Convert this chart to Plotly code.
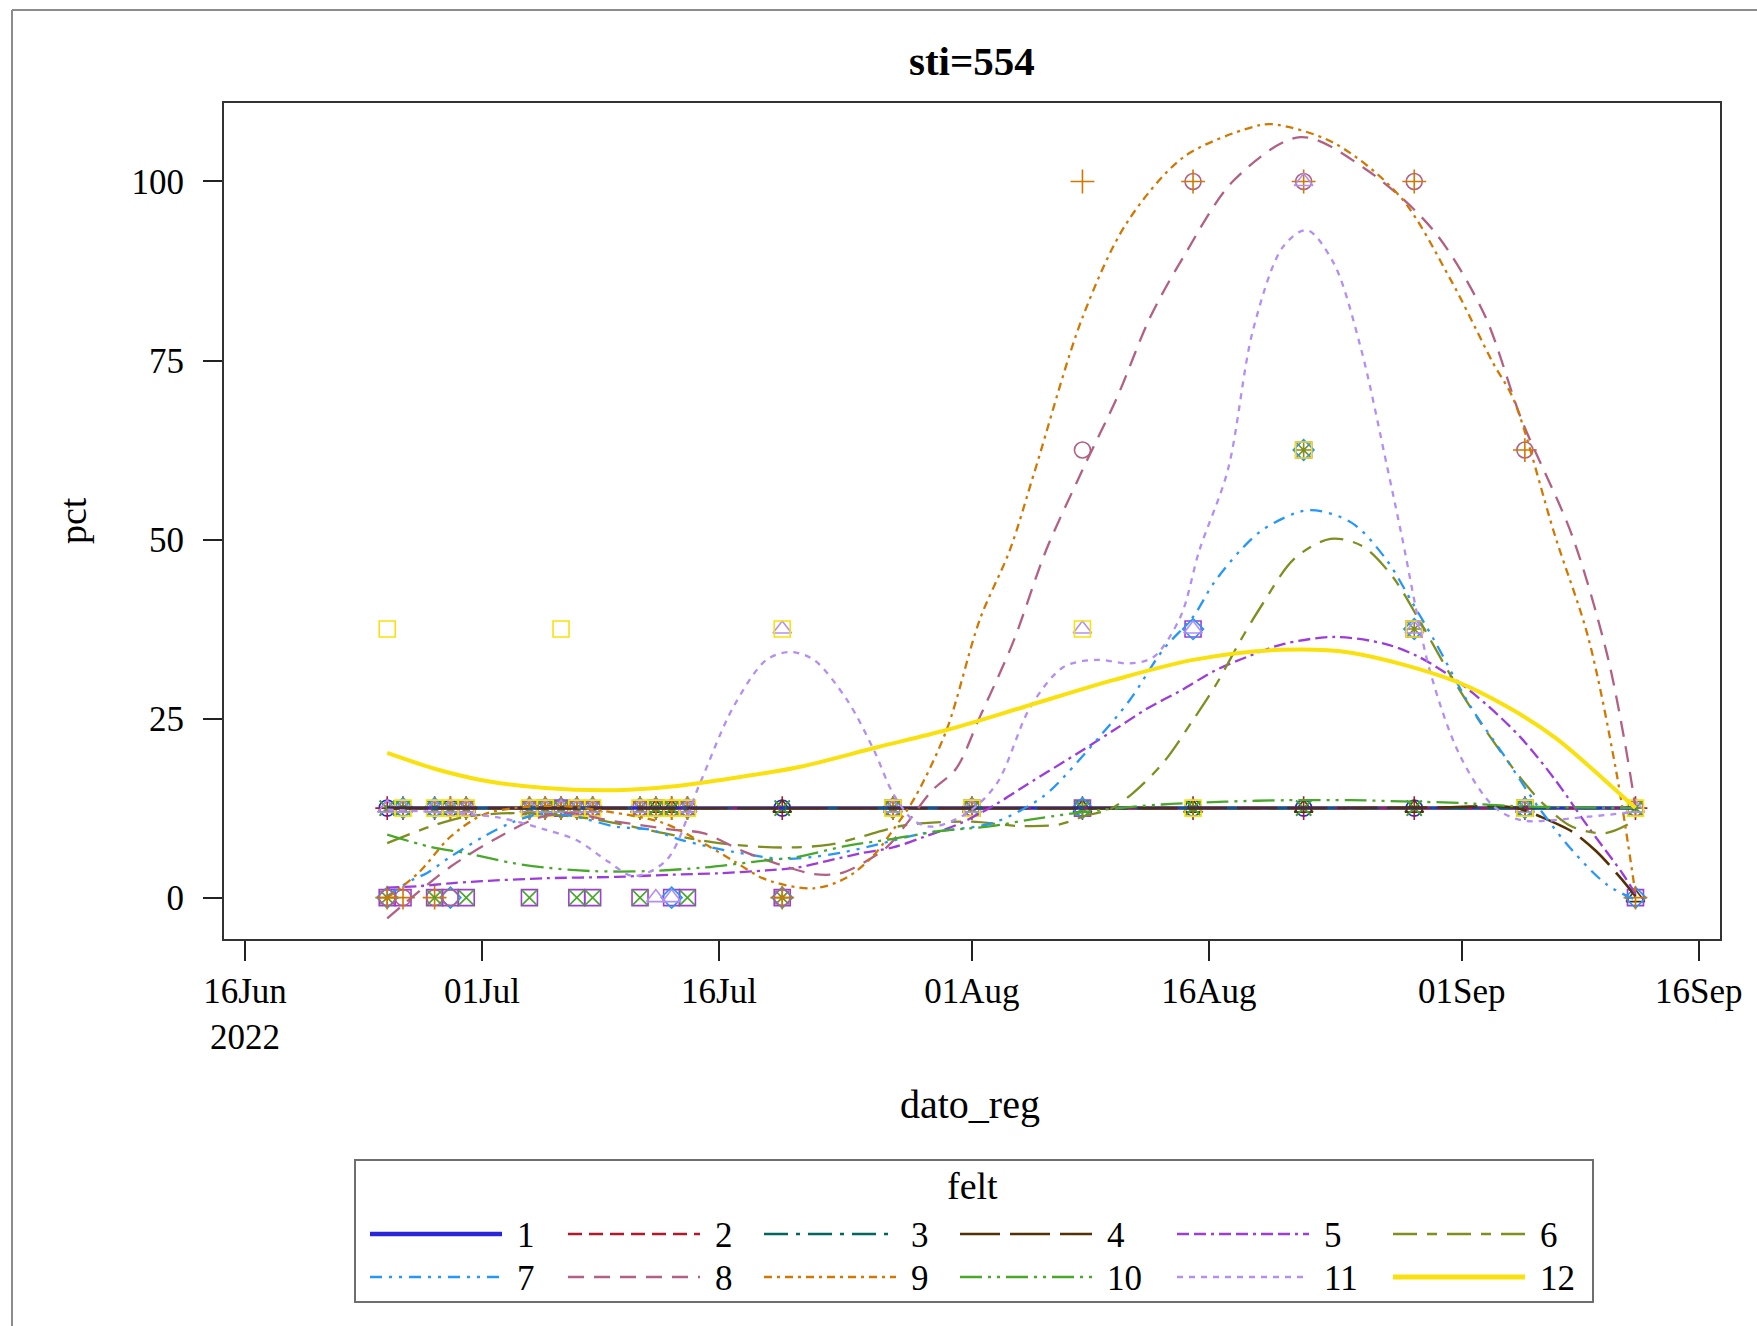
import pandas as pd
import plotly.graph_objects as go

# ---------------- data ----------------
dato_reg = ["2022-06-25", "2022-06-26", "2022-06-28", "2022-06-29", "2022-06-30",
            "2022-07-04", "2022-07-05", "2022-07-06", "2022-07-07", "2022-07-08",
            "2022-07-11", "2022-07-12", "2022-07-13", "2022-07-14", "2022-07-20",
            "2022-07-27", "2022-08-01", "2022-08-08", "2022-08-15", "2022-08-22",
            "2022-08-29", "2022-09-05", "2022-09-12"]
felt = ["1", "2", "3", "4", "5", "6", "7", "8", "9", "10", "11", "12"]

pct_1 = [12.5] * 23
pct_2 = [12.5] * 23
pct_3 = [12.5] * 23
pct_4 = [12.5] * 22 + [0]
pct_5 = [0, 0, 0, 0, 0, 0, 12.5, 12.5, 0, 0, 0, 12.5, 0, 0, 0, 12.5, 12.5, 12.5, 37.5, 62.5, 37.5, 12.5, 0]
pct_6 = [0, 12.5, 12.5, 12.5, 12.5, 12.5, 12.5, 12.5, 12.5, 12.5, 12.5, 12.5, 12.5, 12.5, 0, 12.5, 12.5, 12.5, 12.5, 62.5, 37.5, 12.5, 12.5]
pct_7 = [0, 12.5, 12.5, 0, 12.5, 12.5, 12.5, 12.5, 12.5, 12.5, 12.5, 12.5, 0, 12.5, 0, 12.5, 12.5, 12.5, 37.5, 62.5, 37.5, 12.5, 0]
pct_8 = [0, 0, 0, 0, 12.5, 12.5, 12.5, 12.5, 12.5, 12.5, 12.5, 12.5, 12.5, 12.5, 0, 12.5, 12.5, 62.5, 100, 100, 100, 62.5, 12.5]
pct_9 = [0, 0, 0, 12.5, 12.5, 12.5, 12.5, 12.5, 12.5, 12.5, 12.5, 12.5, 12.5, 12.5, 0, 12.5, 12.5, 100, 100, 100, 100, 62.5, 0]
pct_10 = [12.5, 12.5, 0, 12.5, 0, 0, 12.5, 12.5, 0, 0, 0, 12.5, 12.5, 0, 12.5, 12.5, 12.5, 12.5, 12.5, 12.5, 12.5, 12.5, 12.5]
pct_11 = [12.5, 12.5, 12.5, 12.5, 12.5, 12.5, 12.5, 12.5, 12.5, 12.5, 12.5, 0, 0, 12.5, 37.5, 12.5, 12.5, 37.5, 37.5, 100, 37.5, 12.5, 12.5]
pct_12 = [37.5, 12.5, 12.5, 12.5, 12.5, 12.5, 12.5, 37.5, 12.5, 12.5, 12.5, 12.5, 12.5, 12.5, 37.5, 12.5, 12.5, 37.5, 12.5, 62.5, 37.5, 12.5, 12.5]

# penalized B-spline fits as (days after 16Jun2022, pct)
fit_1 = [(9, 12.5), (88, 12.5)]
fit_2 = [(9, 12.5), (88, 12.5)]
fit_3 = [(9, 12.5), (88, 12.5)]
fit_4 = [(9, 12.5), (60, 12.5), (76, 12.6), (79, 12.8), (80.5, 12.5), (82, 11.3), (84, 9.2),
         (85.5, 6.5), (87, 2.9), (88, 0.2)]
fit_5 = [(9, 1.4), (11, 1.6), (13, 2.0), (15, 2.3), (19, 2.7), (23.5, 2.9), (27, 3.2), (30, 3.4),
         (33, 3.8), (35, 4.2), (37, 5.2), (39, 6.2), (41, 7.0), (43, 8.5), (45.3, 10.4), (47.5, 13.0),
         (49.5, 15.8), (52.8, 20.3), (55, 23.4), (57.1, 26.4), (59.3, 29.0), (61.3, 31.6), (63.4, 33.6),
         (65.7, 35.4), (69, 36.4), (72.2, 35.4), (74.3, 33.6), (76.5, 30.6), (78.6, 26.9), (80.8, 22.2),
         (82.9, 16.5), (85, 9.9), (87.2, 3.3), (88, 0.5)]
fit_6 = [(9, 7.6), (11.7, 9.9), (14, 11.3), (17, 11.8), (19.5, 11.6), (22.5, 10.8), (26.5, 9.0),
         (30, 7.6), (34, 7.0), (37, 7.4), (39, 8.5), (41.5, 10.0), (43, 10.4), (46, 10.6), (49, 10.0),
         (51.5, 10.2), (53.3, 11.5), (54.7, 12.3), (56.2, 14.6), (58.1, 18.8), (60, 24.8), (61.5, 29.9),
         (63, 35.9), (64.4, 41.0), (66.4, 47.3), (68.7, 50.1), (70.7, 49.1), (72.6, 44.9), (74.3, 38.8),
         (76.5, 30.3), (78.6, 23.1), (80.8, 16.5), (82.3, 12.8), (84, 9.9), (86.1, 9.0), (88, 10.8)]
fit_7 = [(9, 0.2), (10.6, 2.5), (11.5, 3.4), (13, 5.7), (15.1, 8.5), (16.8, 10.4), (18.5, 11.6),
         (20.5, 11.5), (23.5, 9.9), (25.6, 9.5), (27.7, 8.0), (30.9, 6.4), (34, 5.4), (36, 5.7),
         (37.8, 6.3), (40, 7.4), (43, 9.0), (47.3, 10.4), (49.9, 13.2), (51, 15.0), (53.9, 22.0),
         (56, 27.6), (58.1, 34.6), (60, 39.2), (61.3, 43.9), (63, 48.5), (64.5, 51.5), (67.3, 54.1),
         (70, 52.4), (72.2, 47.3), (73.9, 41.1), (75.4, 35.4), (77.5, 26.9), (79.7, 19.8), (81.8, 12.8),
         (84, 6.6), (86.2, 1.8), (88, -0.3)]
fit_8 = [(9, -2.9), (13, 4.3), (16.1, 8.5), (18.5, 11.1), (20.5, 11.8), (23, 10.8), (27, 9.5),
         (29, 9.0), (31.5, 6.5), (34, 4.5), (36, 3.3), (37.5, 3.3), (38.5, 4.1), (40.6, 7.0),
         (41.9, 10.4), (43.5, 15.0), (45, 18.0), (46.5, 25.2), (48.6, 35.6), (50.7, 48.5), (53, 59.7),
         (55.2, 69.9), (57.3, 81.1), (59.4, 89.5), (62.6, 100.2), (66.8, 106.2), (71, 101.6),
         (75.2, 93.2), (78.4, 81.6), (80.8, 66.7), (84, 50.5), (86.2, 34.0), (87.3, 22.0), (88, 12.6)]
fit_9 = [(9, 0.0), (11, 3.5), (13, 8.5), (15, 11.5), (17, 12.5), (20, 12.8), (23, 12.0), (26.5, 10.4),
         (29, 7.6), (31, 5.0), (33, 2.5), (36, 1.3), (38, 2.7), (39.7, 5.7), (41, 9.4), (42.4, 14.0),
         (44.4, 23.4), (46.5, 38.8), (48.4, 48.5), (50, 59.7), (53, 81.0), (55.8, 94.2), (59.4, 103.4),
         (63.6, 107.5), (65, 108.0), (68.9, 105.4), (73.1, 97.9), (76.3, 86.3), (79, 74.6), (80.3, 69.5),
         (82.9, 50.6), (85, 36.4), (86.8, 17.4), (88, 0.5)]
fit_10 = [(9, 8.8), (11.7, 7.1), (14, 6.2), (17, 4.8), (19, 4.2), (22, 3.7), (25.5, 3.7), (29, 4.2),
          (33, 5.2), (35, 5.7), (38, 7.2), (41, 8.2), (44, 9.3), (47, 9.9), (50, 11.0), (54, 12.2),
          (58, 13.0), (62, 13.4), (66, 13.6), (70, 13.6), (74, 13.4), (77, 13.2), (80, 12.8), (84, 12.6),
          (88, 12.5)]
fit_11 = [(9, 12.3), (13, 11.8), (16, 11.2), (19, 9.5), (21, 8.0), (23, 5.0), (24.6, 3.0), (26.7, 5.3),
          (28.8, 16.0), (30.9, 26.6), (33, 33.2), (34.5, 34.3), (36, 33.2), (38.1, 27.6), (39.8, 20.6),
          (41, 14.6), (42.3, 10.8), (43.5, 9.9), (45.7, 11.8), (47.6, 16.0), (49.7, 26.6), (51.8, 32.2),
          (53.9, 33.2), (56, 32.7), (57.5, 33.6), (59.2, 39.2), (60.4, 48.5), (62.2, 59.7), (63.8, 79.3),
          (65.7, 90.9), (67.2, 93.2), (68.9, 88.6), (70.6, 76.9), (72.3, 60.0), (73.2, 50.6), (75, 31.6),
          (76.9, 19.8), (79, 12.8), (80.8, 10.8), (85, 11.3), (88, 12.0)]
fit_12 = [(9, 20.2), (12, 18.0), (15, 16.4), (19, 15.3), (23.5, 15.0), (27, 15.5), (30, 16.4), (35, 18.2),
          (40, 21.0), (44.4, 23.4), (49.7, 26.9), (55, 30.4), (60, 33.2), (65.5, 34.6), (70, 34.2),
          (76.5, 30.3), (80, 26.5), (83, 22.2), (86, 16.5), (88, 12.5)]

x_tick_dates = ["2022-06-16", "2022-07-01", "2022-07-16", "2022-08-01", "2022-08-16", "2022-09-01", "2022-09-16"]
x_tick_labels = ["16Jun<br>2022", "01Jul", "16Jul", "01Aug", "16Aug", "01Sep", "16Sep"]
y_ticks = [0, 25, 50, 75, 100]

pcts = [pct_1, pct_2, pct_3, pct_4, pct_5, pct_6, pct_7, pct_8, pct_9, pct_10, pct_11, pct_12]
fits = [fit_1, fit_2, fit_3, fit_4, fit_5, fit_6, fit_7, fit_8, fit_9, fit_10, fit_11, fit_12]

# ---------------- style ----------------
colors = ["#2A25D9", "#B2182B", "#01665E", "#543005", "#9D3CDB", "#7F8E1F",
          "#2597FA", "#B26084", "#D17800", "#47A82A", "#B38EF3", "#F9E10E"]
symbols = ["circle-open", "cross-thin-open", "x-thin-open", "triangle-up-open", "square-open",
           "asterisk-open", "diamond-open", "circle-open", "cross-thin-open", "x-thin-open",
           "triangle-up-open", "square-open"]
msizes = [16, 17, 15, 16, 16, 16, 16, 16, 17, 15, 16, 16]
dashes = ["solid", "14px,7px", "24px,8px,4px,8px", "40px,10px", "12px,5px,12px,5px,3px,5px",
          "24px,10px,10px,10px", "12px,7px,3px,7px,3px,7px", "16px,10px", "8px,5px,3px,5px",
          "22px,6px,3px,6px,3px,6px", "6px,6px", "solid"]
widths = [3.5, 2.3, 2.3, 2.6, 2.3, 2.3, 2.3, 2.3, 2.3, 2.3, 2.3, 4]

FONT = "Liberation Serif, Times New Roman, serif"
W, H = 1757, 1326
PL, PR, PT, PB = 224, 1720, 103, 939

base = pd.Timestamp("2022-06-16")


def day_to_date(d):
    return base + pd.to_timedelta(d, unit="D")


def px(x):
    return (x - PL) / (PR - PL)


def py(y):
    return (PB - y) / (PB - PT)


fig = go.Figure()
xd = pd.to_datetime(dato_reg)
for i in range(12):
    fig.add_trace(go.Scatter(
        x=xd, y=pcts[i], mode="markers", showlegend=False, hoverinfo="skip",
        marker=dict(symbol=symbols[i], size=msizes[i], color=colors[i],
                    line=dict(color=colors[i], width=1.6))))
for i in range(12):
    fx = [day_to_date(d) for d, _ in fits[i]]
    fy = [v for _, v in fits[i]]
    fig.add_trace(go.Scatter(
        x=fx, y=fy, mode="lines", showlegend=False, hoverinfo="skip", name=felt[i],
        line=dict(color=colors[i], width=widths[i], dash=dashes[i], shape="spline", smoothing=0.9)))

shapes = []
annotations = []

# outer border of the graph
shapes.append(dict(type="line", xref="paper", yref="paper", x0=px(12), x1=px(W + 5), y0=py(10), y1=py(10),
                   line=dict(color="#8c8c8c", width=2)))
shapes.append(dict(type="line", xref="paper", yref="paper", x0=px(12), x1=px(12), y0=py(10), y1=py(H + 5),
                   line=dict(color="#8c8c8c", width=2)))

# legend box
shapes.append(dict(type="rect", xref="paper", yref="paper", x0=px(355), x1=px(1593), y0=py(1160), y1=py(1302),
                   line=dict(color="#6e6e6e", width=2), fillcolor="rgba(0,0,0,0)"))
annotations.append(dict(text="felt", xref="paper", yref="paper", x=px(972), y=py(1186), showarrow=False,
                        xanchor="center", yanchor="middle", font=dict(family=FONT, size=38, color="black")))
col_x = [370, 568, 764, 960, 1177, 1393]
row_y = [1234, 1277]
for i in range(12):
    r, c = divmod(i, 6)
    x0 = col_x[c]
    x1 = x0 + 132
    shapes.append(dict(type="line", xref="paper", yref="paper", x0=px(x0), x1=px(x1), y0=py(row_y[r]),
                       y1=py(row_y[r]), line=dict(color=colors[i], width=widths[i] + (1 if i in (0, 11) else 0),
                                                  dash=dashes[i])))
    annotations.append(dict(text=felt[i], xref="paper", yref="paper", x=px(x1 + 13), y=py(row_y[r] + 1),
                            showarrow=False, xanchor="left", yanchor="middle",
                            font=dict(family=FONT, size=35, color="black")))

# title and axis labels
annotations.append(dict(text="<b>sti=554</b>", xref="paper", yref="paper", x=px(972), y=py(61),
                        showarrow=False, xanchor="center", yanchor="middle",
                        font=dict(family=FONT, size=41, color="black")))
annotations.append(dict(text="dato_reg", xref="paper", yref="paper", x=px(970), y=py(1104),
                        showarrow=False, xanchor="center", yanchor="middle",
                        font=dict(family=FONT, size=40, color="black")))
annotations.append(dict(text="pct", xref="paper", yref="paper", x=px(73), y=py(521), textangle=-90,
                        showarrow=False, xanchor="center", yanchor="middle",
                        font=dict(family=FONT, size=38, color="black")))

fig.update_layout(
    width=W, height=H,
    margin=dict(l=PL, r=W - PR, t=PT, b=H - PB, autoexpand=False),
    paper_bgcolor="white", plot_bgcolor="white",
    showlegend=False,
    shapes=shapes, annotations=annotations,
    xaxis=dict(type="date", range=[day_to_date(-1.33), day_to_date(93.35)],
               tickvals=pd.to_datetime(x_tick_dates), ticktext=x_tick_labels,
               ticks="outside", ticklen=20, tickwidth=1.5, tickcolor="#222",
               showline=True, mirror=True, linecolor="#333", linewidth=2,
               showgrid=False, zeroline=False, ticklabelstandoff=0,
               tickfont=dict(family=FONT, size=35, color="black")),
    yaxis=dict(range=[-5.78, 110.96], tickvals=y_ticks, ticktext=[str(v) for v in y_ticks],
               ticks="outside", ticklen=19, tickwidth=1.5, tickcolor="#222",
               showline=True, mirror=True, linecolor="#333", linewidth=2,
               showgrid=False, zeroline=False, ticklabelstandoff=12,
               tickfont=dict(family=FONT, size=35, color="black")),
)

fig.write_html("out.html", config={"displayModeBar": False},
               post_script="document.body.style.margin='0';document.body.style.overflow='hidden';")
